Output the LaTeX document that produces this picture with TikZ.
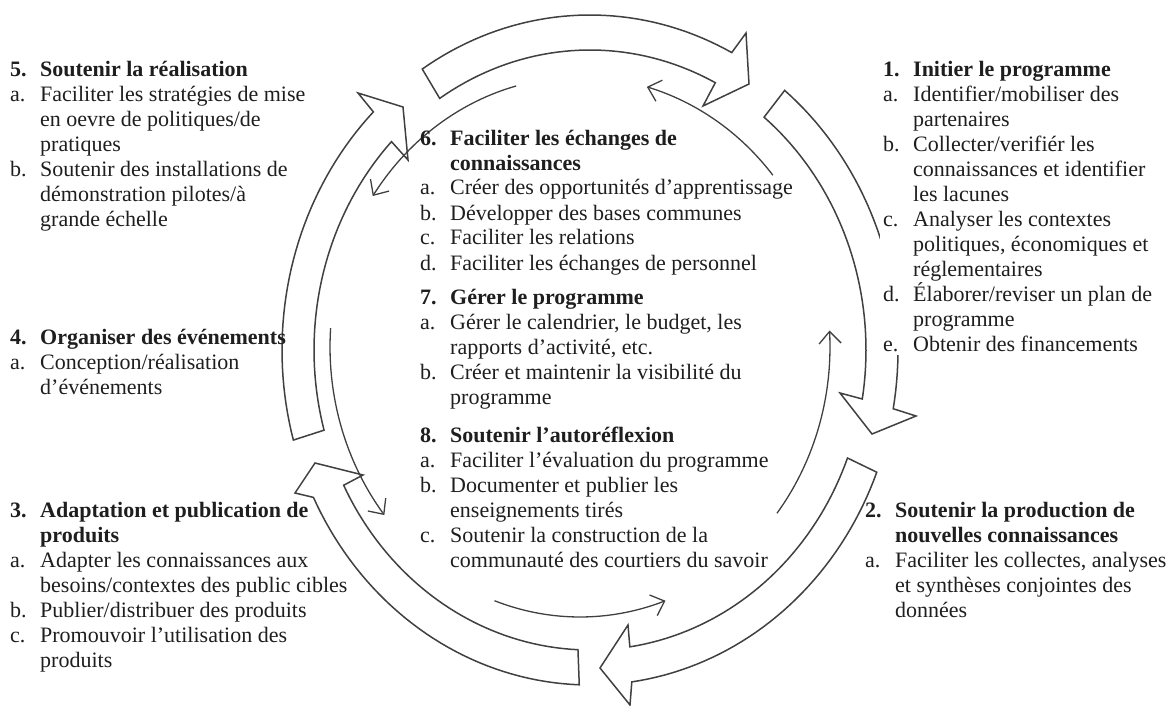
\documentclass[tikz,border=0pt]{standalone}
\usepackage{fontspec}
\setmainfont{Liberation Serif}
\usetikzlibrary{arrows.meta}
\definecolor{linec}{HTML}{404040}
\definecolor{txtc}{HTML}{1E1E1E}
\newcommand{\lab}[1]{\makebox[30pt][l]{#1}}
\newcommand{\cont}{\hspace*{30pt}}
\newcommand{\sect}[1]{\parbox[t]{420pt}{\raggedright\fontsize{22}{25}\selectfont #1}}
\begin{document}
\begin{tikzpicture}[x=1pt,y=-1pt,
  blk/.style={draw=linec, line width=1.5pt, line join=miter},
  thinarr/.style={draw=linec, line width=1.3pt, -{Straight Barb[length=12pt,width=22pt,line width=1.3pt]}},
  txt/.style={anchor=base west, inner sep=0pt, text=txtc},
  boxtxt/.style={anchor=base west, inner sep=3pt, text=txtc, fill=white}]
\useasboundingbox (0,0) rectangle (1169,706);
% ---------- block arrows (clockwise) ----------
% top
\draw[blk] plot[domain=123:62.6, samples=40, variable=\t] ({590+308*cos(\t)},{350-335*sin(\t)})
  -- (746,33) -- (749,84) -- (703,106)
  -- plot[domain=63:123, samples=40, variable=\t] ({590+276*cos(\t)},{350-300*sin(\t)}) -- cycle;
% right
\draw[blk] plot[domain=50.8:-10.1, samples=40, variable=\t] ({590+308*cos(\t)},{350-335*sin(\t)})
  -- (916,416) -- (872,434) -- (840,393)
  -- plot[domain=-9.4:50.9, samples=40, variable=\t] ({590+276*cos(\t)},{350-300*sin(\t)}) -- cycle;
% bottom right
\draw[blk] plot[domain=-21.4:-82.2, samples=40, variable=\t] ({590+308*cos(\t)},{350-335*sin(\t)})
  -- (630,705) -- (600,668) -- (628,625)
  -- plot[domain=-81.7:-21.1, samples=40, variable=\t] ({590+276*cos(\t)},{350-300*sin(\t)}) -- cycle;
% bottom left
\draw[blk] plot[domain=268:206.1, samples=40, variable=\t] ({590+308*cos(\t)},{350-335*sin(\t)})
  -- (295,493) -- (315,463) -- (363,475)
  -- plot[domain=206.8:267.5, samples=40, variable=\t] ({590+276*cos(\t)},{350-300*sin(\t)}) -- cycle;
% left
\draw[blk] plot[domain=195.6:134.7, samples=40, variable=\t] ({590+308*cos(\t)},{350-335*sin(\t)})
  -- (358,93) -- (403,107) -- (408,160)
  -- plot[domain=136:195.5, samples=40, variable=\t] ({590+276*cos(\t)},{350-300*sin(\t)}) -- cycle;
% ---------- thin inner arrows (counter-clockwise) ----------
\draw[thinarr] plot[domain=39.5:74.5, samples=30, variable=\t] ({580+250*cos(\t)},{347-270*sin(\t)});
\draw[thinarr] plot[domain=104.8:146, samples=30, variable=\t] ({580+250*cos(\t)},{347-270*sin(\t)});
\draw[thinarr] plot[domain=176:218.5, samples=30, variable=\t] ({580+250*cos(\t)},{347-270*sin(\t)});
\draw[thinarr] plot[domain=250:290, samples=30, variable=\t] ({580+250*cos(\t)},{347-270*sin(\t)});
\draw[thinarr] plot[domain=-38:3.5, samples=30, variable=\t] ({580+250*cos(\t)},{347-270*sin(\t)});
% ---------- texts ----------
\node[txt] (s5) at (10,77) {\sect{%
\lab{\textbf{5.}}\textbf{Soutenir la réalisation}\\
\lab{a.}Faciliter les stratégies de mise\\
\cont en oevre de politiques/de\\
\cont pratiques\\
\lab{b.}Soutenir des installations de\\
\cont démonstration pilotes/à\\
\cont grande échelle}};
\node[txt] (s4) at (10,344) {\sect{%
\lab{\textbf{4.}}\textbf{Organiser des événements}\\
\lab{a.}Conception/réalisation\\
\cont d’événements}};
\node[txt] (s3) at (10,517) {\sect{%
\lab{\textbf{3.}}\textbf{Adaptation et publication de}\\
\cont\textbf{produits}\\
\lab{a.}Adapter les connaissances aux\\
\cont besoins/contextes des public cibles\\
\lab{b.}Publier/distribuer des produits\\
\lab{c.}Promouvoir l’utilisation des\\
\cont produits}};
\node[txt] (s2) at (865,517) {\sect{%
\lab{\textbf{2.}}\textbf{Soutenir la production de}\\
\cont\textbf{nouvelles connaissances}\\
\lab{a.}Faciliter les collectes, analyses\\
\cont et synthèses conjointes des\\
\cont données}};
\node[txt] (s6) at (420,145) {\sect{%
\lab{\textbf{6.}}\textbf{Faciliter les échanges de}\\
\cont\textbf{connaissances}\\
\lab{a.}Créer des opportunités d’apprentissage\\
\lab{b.}Développer des bases communes\\
\lab{c.}Faciliter les relations\\
\lab{d.}Faciliter les échanges de personnel}};
\node[txt] (s7) at (420,304) {\sect{%
\lab{\textbf{7.}}\textbf{Gérer le programme}\\
\lab{a.}Gérer le calendrier, le budget, les\\
\cont rapports d’activité, etc.\\
\lab{b.}Créer et maintenir la visibilité du\\
\cont programme}};
\node[txt] (s8) at (420,442) {\sect{%
\lab{\textbf{8.}}\textbf{Soutenir l’autoréflexion}\\
\lab{a.}Faciliter l’évaluation du programme\\
\lab{b.}Documenter et publier les\\
\cont enseignements tirés\\
\lab{c.}Soutenir la construction de la\\
\cont communauté des courtiers du savoir}};
\node[boxtxt] (s1) at (880,77) {\parbox[t]{280pt}{\raggedright\fontsize{22}{25}\selectfont
\lab{\textbf{1.}}\textbf{Initier le programme}\\
\lab{a.}Identifier/mobiliser des\\
\cont partenaires\\
\lab{b.}Collecter/verifiér les\\
\cont connaissances et identifier\\
\cont les lacunes\\
\lab{c.}Analyser les contextes\\
\cont politiques, économiques et\\
\cont réglementaires\\
\lab{d.}Élaborer/reviser un plan de\\
\cont programme\\
\lab{e.}Obtenir des financements}};
\end{tikzpicture}
\end{document}
